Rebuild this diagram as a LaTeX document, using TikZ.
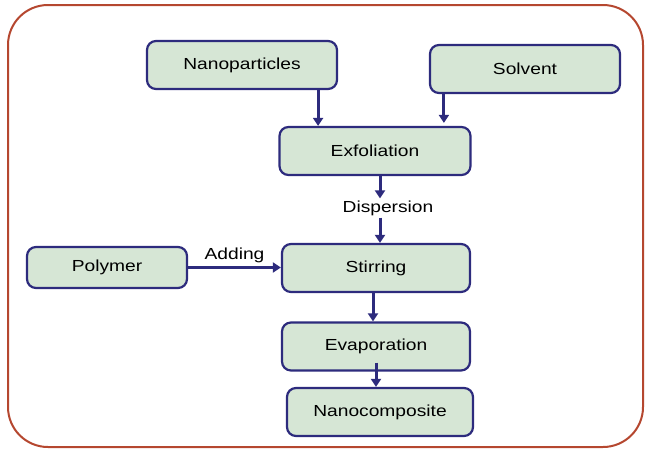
\documentclass[tikz,border=0pt]{standalone}
\usepackage{fontspec}
\setmainfont[FakeStretch=1.2]{Liberation Sans}
\usetikzlibrary{arrows.meta}
\definecolor{boxfill}{HTML}{D6E6D5}
\definecolor{boxline}{HTML}{2D2B7D}
\definecolor{framered}{HTML}{B5472F}

\begin{document}
\begin{tikzpicture}[x=1pt, y=-1pt,
  box/.style={draw=boxline, fill=boxfill, line width=2.2pt, rounded corners=9pt,
    minimum width=#1, minimum height=48pt, inner sep=0pt, font=\fontsize{16}{18}\selectfont},
  lab/.style={font=\fontsize{16}{18}\selectfont, inner sep=2pt},
  flow/.style={draw=boxline, line width=3pt, -{Triangle[width=10pt,length=8pt]}}
]
\useasboundingbox (0,0) rectangle (645,448);
\draw[framered, line width=2pt, rounded corners=40pt] (8,5) rectangle (643,447);
% boxes
\node[box=190pt] (np) at (242,65) {Nanoparticles};
\node[box=190pt] (sol) at (525,69) {Solvent};
\node[box=191pt] (exf) at (375,151) {Exfoliation};
\node[lab] (disp) at (388,208) {Dispersion};
\node[box=160pt, minimum height=41pt] (poly) at (107,267.5) {Polymer};
\node[box=188pt] (stir) at (376,268) {Stirring};
\node[box=188pt] (evap) at (376,346.5) {Evaporation};
\node[box=186pt] (nano) at (380,412) {Nanocomposite};
% arrows
\draw[flow] ([xshift=-20pt]np.south east) -- ([xshift=-20pt]np.south east |- exf.north);
\draw[flow, shorten >=3pt] ([xshift=15pt]sol.south west) -- ([xshift=15pt]sol.south west |- exf.north);
\draw[flow] ([xshift=5pt]exf.south) -- ([xshift=5pt]exf.south |- disp.north);
\draw[flow] ([xshift=5pt]exf.south |- disp.south) -- ([xshift=5pt]exf.south |- stir.north);
\draw[flow] (poly.east) -- node[lab, above=1pt] (add) {Adding} (poly.east -| stir.west);
\draw[flow] ([xshift=-3pt]stir.south) -- ([xshift=-3pt]stir.south |- evap.north);
\draw[flow] ([yshift=9pt]evap.south) -- (evap.south |- nano.north);
\end{tikzpicture}
\end{document}
